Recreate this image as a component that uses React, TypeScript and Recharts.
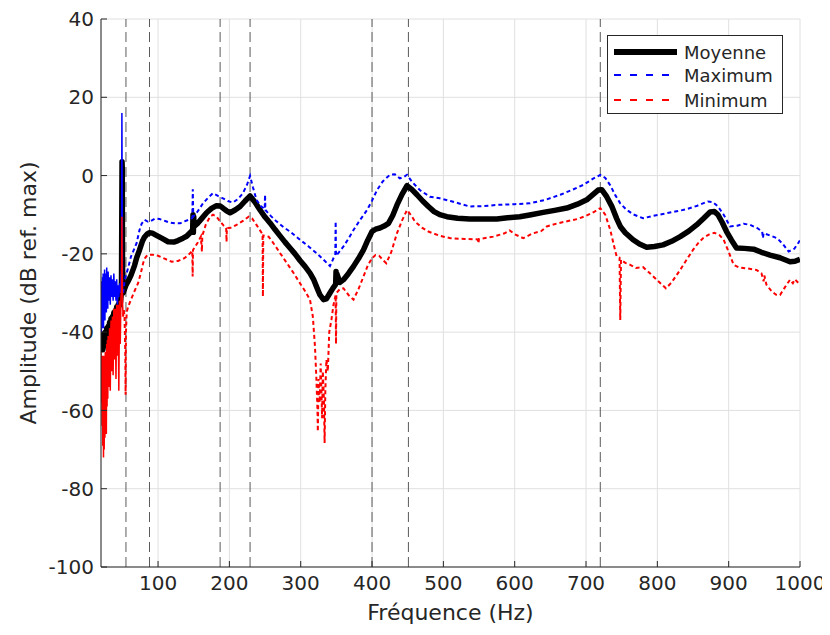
import React from 'react';
import {
  LineChart,
  Line,
  XAxis,
  YAxis,
  CartesianGrid,
  ReferenceLine
} from 'recharts';

// [Hz, dB]
const moyenne: [number, number][] = [
  [20, -40], [20.5, -43.5], [21, -40.5], [21.5, -44.5], [22, -41], [22.5, -44.5], [23, -41], [23.5, -44],
  [24, -40.5], [25, -43.5], [26, -40], [27, -42.5], [28, -39], [29, -41.5], [30, -38.5], [31, -40.5],
  [32, -37.5], [33, -39.5], [34, -36.5], [35, -38.5], [36, -36], [37, -37.5], [38, -35], [39, -36.5],
  [40, -34.5], [41, -35.5], [42, -33.5], [43, -34.5], [44, -33], [45, -33.5], [46, -32], [47, -33],
  [48, -31], [48.7, -30], [49.2, -8], [49.5, 3.5], [49.8, 2], [50.1, -20], [50.5, -29], [51, -30],
  [52, -29.5], [53, -29], [55, -28], [58, -27], [62, -25.5], [67, -23], [70, -21], [74, -19],
  [78, -16.8], [81, -15.7], [85, -14.9], [88, -14.6], [92, -14.7], [97, -15.2], [105, -16], [114, -16.9],
  [122, -17], [128, -16.6], [135, -16], [140, -15.5], [146, -14.4], [148.5, -14], [149, -10], [149.5, -14.5],
  [150, -10.5], [150.5, -13], [155, -12.3], [162, -10.8], [168, -9.5], [175, -8.4], [182, -7.7], [187, -7.8],
  [191, -8.3], [196, -9], [201, -9.5], [208, -8.8], [215, -7.9], [222, -6.5], [229, -5.2], [236, -6.8],
  [243, -8.8], [250, -10.6], [257, -12.1], [264, -13.8], [271, -15.4], [278, -17], [285, -18.5], [292, -20],
  [299, -21.7], [306, -23.2], [313, -24.9], [318, -26.5], [322, -28.3], [327, -30.5], [332, -31.7], [336, -31.5],
  [341, -30], [345, -28.8], [349, -27.8], [349.5, -24.5], [350, -27.4], [350.5, -25], [355, -27.3], [360, -26.6],
  [367, -25], [374, -23.2], [381, -21.2], [388, -19], [394, -16.5], [400, -14.3], [405, -13.7], [411, -13.4],
  [417, -12.9], [423, -12.2], [429, -10.2], [435, -7.5], [442, -4.8], [449, -2.6], [456, -3.6], [463, -4.9],
  [471, -6.5], [479, -7.9], [487, -9.2], [495, -10], [505, -10.5], [520, -10.9], [537, -11.1], [555, -11.1],
  [575, -11.1], [590, -10.8], [607, -10.5], [623, -10], [640, -9.4], [656, -8.9], [673, -8.3], [688, -7.3],
  [701, -6.2], [710, -4.8], [717, -3.7], [722, -3.6], [729, -5.4], [736, -7.8], [743, -11], [748, -13],
  [755, -14.6], [766, -16.4], [775, -17.5], [785, -18.3], [796, -18.1], [808, -17.7], [820, -16.8], [832, -15.6],
  [844, -14.2], [855, -12.6], [865, -10.9], [874, -9.3], [880, -9.2], [885, -10], [891, -12], [897, -14.3],
  [904, -16.5], [911, -18.5], [922, -18.6], [935, -18.8], [946, -19.6], [958, -20.3], [972, -21], [986, -22],
  [993, -21.9], [1000, -21.4]
];

const maximum: [number, number][] = [
  [20, -29], [20.5, -40], [21, -27], [21.5, -39], [22, -26], [22.5, -38], [23, -25], [23.5, -39],
  [24, -27], [24.5, -36], [25, -24], [25.5, -37], [26, -26], [26.5, -34], [27, -25], [27.5, -35],
  [28, -23.5], [28.5, -33], [29, -25], [29.5, -34], [30, -24.5], [31, -32], [32, -26], [33, -33],
  [34, -25.5], [35, -31], [36, -26.5], [37, -32], [38, -25], [39, -31], [40, -27], [41, -32],
  [42, -26.5], [43, -33], [44, -28], [45, -31], [46, -27.5], [47, -30], [48, -26], [48.8, -24],
  [49.3, 16], [49.7, -5], [50.2, -29], [51, -30], [53, -27], [55, -25.5], [58, -23.6], [62, -20.7],
  [66, -19], [70, -17.2], [74, -13.9], [77, -12.3], [81, -11.3], [86, -11.8], [90, -11.6], [96, -11],
  [102, -11.1], [110, -11.6], [116, -12], [125, -12.2], [131, -12.2], [137, -11.7], [143, -11.3], [148, -10.8],
  [148.7, -3.5], [149.3, -10.5], [155, -9.3], [163, -7.1], [170, -5.7], [177, -4.5], [184, -5.2], [191, -5.8],
  [198, -6.5], [205, -6.9], [212, -6], [219, -4.5], [225, -2.2], [229, -0.1], [233, -3], [238, -6.2],
  [244, -7.8], [249.5, -8.6], [250, -4.9], [250.5, -8.8], [258, -10.3], [266, -11.7], [276, -13.2], [285, -14.3],
  [299, -16.4], [311, -18.1], [322, -19.8], [332, -21.5], [341, -23.1], [345, -21.5], [348.5, -20], [349, -11.7],
  [349.5, -20.5], [354, -19.5], [360, -18.1], [367, -16.1], [374, -13.9], [383, -11.4], [393, -8.8], [400, -6.4],
  [407, -3.7], [415, -1.5], [425, 0.2], [432, 0.3], [439, -0.7], [445, -0.3], [449, 0.2], [456, -1.6],
  [467, -3.7], [481, -5.4], [495, -5.8], [510, -6.5], [537, -7.9], [555, -7.8], [575, -7.5], [600, -7.3],
  [621, -7.1], [643, -6.2], [664, -4.9], [680, -3.7], [696, -2.4], [710, -0.8], [720, 0.2], [727, -0.6],
  [734, -2.5], [741, -5], [748, -7.1], [756, -8.6], [766, -9.9], [780, -10.9], [794, -10.3], [808, -9.8],
  [825, -9.2], [841, -8.6], [856, -7.7], [871, -6.6], [878, -6.8], [885, -7.9], [893, -10], [902, -13],
  [912, -12.8], [921, -12.3], [930, -12.6], [940, -13.4], [947, -14.3], [948, -16], [949, -14.7], [958, -15.3],
  [968, -16], [976, -17.5], [984, -19.4], [992, -18.7], [998, -17.1], [1000, -16.5]
];

const minimum: [number, number][] = [
  [20, -45], [20.5, -58], [21, -46], [21.5, -64], [22, -47], [22.5, -69], [23, -46], [23.5, -72],
  [24, -48], [24.5, -70], [25, -46], [25.5, -67], [26, -45], [26.5, -62], [27, -45], [27.5, -66],
  [28, -43], [28.5, -59], [29, -42], [29.5, -57], [30, -41], [31, -54], [32, -39], [33, -55],
  [34, -37], [35, -50], [36, -36], [37, -51], [38, -34], [39, -47], [40, -34], [41, -52],
  [42, -33], [43, -46], [44, -33], [45, -55], [46, -32], [47, -43], [48, -31], [48.7, -29],
  [49.3, -10.5], [49.8, -25], [50.3, -33], [51, -36], [52, -34.3], [53, -36], [54, -45], [54.5, -56],
  [55, -40], [56, -35], [58, -33.5], [62, -31.7], [67, -29.5], [72, -27.5], [76, -24.8], [79, -22.4],
  [82, -21], [85, -20.3], [92, -20.2], [100, -20.5], [110, -21.3], [119, -22], [128, -21.8], [137, -21.1],
  [143, -20.2], [148, -19.2], [148.5, -25.8], [149, -19], [155, -17.3], [160, -15.6], [161.5, -19.4], [162, -15.4],
  [167, -12.5], [173, -10.5], [177, -10], [182, -10.5], [187, -11.7], [192, -12.8], [195.5, -13.4], [196, -16.9],
  [196.5, -13.4], [203, -13.3], [210, -12.6], [219, -11.6], [227, -10.5], [232, -11], [238, -12.6], [243, -14],
  [246.5, -15], [247, -30.9], [247.5, -15.3], [255, -15.6], [263, -17.6], [271, -19.8], [280, -22.2], [290, -24.9],
  [299, -27.5], [306, -29.5], [313, -31.7], [317, -36], [320, -43.7], [322, -52], [323.5, -60], [324, -65.4],
  [325, -52], [326.5, -58], [328, -48], [330, -62], [331, -50], [332.5, -57], [333.5, -68.3], [334.5, -55],
  [336, -47], [338, -50], [340, -40], [343, -36.9], [346, -33], [349, -30.5], [349.5, -43], [350, -30],
  [355, -29], [360, -28.8], [367, -30.5], [374, -31.7], [381, -29], [388, -25.8], [394, -23], [400, -21.1],
  [405, -20.3], [410, -20.5], [415, -21.5], [420, -22.4], [427, -19.5], [435, -14.7], [442, -11.5], [449, -8.8],
  [455, -10.2], [460, -11.7], [470, -13.3], [479, -14.3], [495, -15.4], [510, -16], [530, -16.2], [548, -16.3],
  [549, -17.3], [550, -16.2], [570, -15.6], [585, -14.8], [593, -14], [600, -15], [612, -16], [625, -14.8],
  [637, -14.2], [645, -13], [660, -12.2], [675, -11.6], [688, -11.1], [700, -10.3], [712, -9.2], [720, -8.3],
  [727, -10], [734, -13.9], [740, -18.5], [743, -20.7], [747, -21], [748, -36.9], [749, -21.5], [755, -22.3],
  [762, -22.8], [770, -23.6], [780, -23.4], [790, -25], [799, -26.6], [806, -27.8], [812, -28.8], [820, -27.3],
  [832, -24.1], [841, -21.5], [850, -19], [857, -17.3], [864, -16], [872, -15.1], [880, -14.6], [887, -15.2],
  [893, -16.4], [900, -19.5], [907, -22.8], [915, -23.5], [925, -23.7], [939, -24.1], [946, -25], [949, -27],
  [950, -25.5], [953, -27.9], [960, -29.5], [966, -30.4], [972, -30.5], [979, -28.5], [986, -26.6], [990, -27.5],
  [993, -26.5], [998, -27.5], [1000, -27]
];

// dashed markers (Hz)
const modes = [55, 88, 187, 229, 400, 451, 720];

const xTicks = [100, 200, 300, 400, 500, 600, 700, 800, 900, 1000];
const yTicks = [-100, -80, -60, -40, -20, 0, 20, 40];

// below this the dashed series are so dense they look solid
const NOISY_END = 51;

const legendItems = [
  { name: 'Moyenne', color: '#000000', width: 6, dash: '' },
  { name: 'Maximum', color: '#0000ff', width: 2, dash: '7 9' },
  { name: 'Minimum', color: '#ff0000', width: 2, dash: '7 9' }
];

const toRows = (pts: [number, number][]) => pts.map(([hz, db]) => ({ hz, db }));
const lowPart = (pts: [number, number][]) => toRows(pts.filter(([hz]) => hz <= NOISY_END));
const highPart = (pts: [number, number][]) => toRows(pts.filter(([hz]) => hz >= NOISY_END));

const FONT = "'DejaVu Sans', sans-serif";
const INK = '#262626';

const App = () => {
  const tick = { fill: INK, fontSize: 20, fontFamily: FONT };

  return (
    <div style={{ position: 'relative', width: 822, height: 627, fontFamily: FONT }}>
      <LineChart
        width={822}
        height={627}
        margin={{ top: 11, right: 30, bottom: 0, left: 0 }}
        style={{ overflow: 'visible' }}
      >
        <CartesianGrid stroke='#e0e0e0' />
        <XAxis
          type='number'
          dataKey='hz'
          domain={[20, 1000]}
          allowDataOverflow
          ticks={xTicks}
          interval={0}
          height={68}
          tick={tick}
          tickSize={-6}
          tickMargin={15}
          stroke={INK}
          label={{
            value: 'Fréquence (Hz)',
            position: 'insideBottom',
            offset: 15,
            style: { fontSize: 22, fill: INK, fontFamily: FONT }
          }}
        />
        <YAxis
          type='number'
          domain={[-100, 40]}
          allowDataOverflow
          ticks={yTicks}
          interval={0}
          width={93}
          tick={tick}
          tickSize={-6}
          tickMargin={13}
          stroke={INK}
          label={{
            value: 'Amplitude (dB ref. max)',
            angle: -90,
            position: 'insideLeft',
            offset: 20,
            style: { fontSize: 22, fill: INK, fontFamily: FONT, textAnchor: 'middle' }
          }}
        />
        {modes.map((hz) => (
          <ReferenceLine
            key={hz}
            x={hz}
            stroke='#5a5a5a'
            strokeDasharray='10 5'
          />
        ))}
        <Line
          data={toRows(moyenne)}
          dataKey='db'
          stroke='#000000'
          strokeWidth={5.5}
          strokeLinejoin='round'
          dot={false}
          isAnimationActive={false}
        />
        <Line
          data={lowPart(maximum)}
          dataKey='db'
          stroke='#0000ff'
          strokeWidth={1.5}
          dot={false}
          isAnimationActive={false}
        />
        <Line
          data={highPart(maximum)}
          dataKey='db'
          stroke='#0000ff'
          strokeWidth={2}
          strokeDasharray='4 3'
          dot={false}
          isAnimationActive={false}
        />
        <Line
          data={lowPart(minimum)}
          dataKey='db'
          stroke='#ff0000'
          strokeWidth={1.5}
          dot={false}
          isAnimationActive={false}
        />
        <Line
          data={highPart(minimum)}
          dataKey='db'
          stroke='#ff0000'
          strokeWidth={2}
          strokeDasharray='4 3'
          dot={false}
          isAnimationActive={false}
        />
      </LineChart>

      {/* legend box, top right */}
      <div
        style={{
          position: 'absolute',
          left: 599,
          top: 27,
          width: 174,
          height: 77,
          border: `1px solid ${INK}`,
          background: '#fff'
        }}
      >
        {legendItems.map((item, i) => (
          <div
            key={item.name}
            style={{
              position: 'absolute',
              left: 0,
              top: [4, 27, 52][i],
              height: 24,
              display: 'flex',
              alignItems: 'center'
            }}
          >
            <svg width={76} height={24}>
              <line
                x1={6}
                x2={69}
                y1={12}
                y2={12}
                stroke={item.color}
                strokeWidth={item.width}
                strokeDasharray={item.dash}
              />
            </svg>
            <span style={{ fontSize: 18, color: INK }}>{item.name}</span>
          </div>
        ))}
      </div>
    </div>
  );
};

export default App;
